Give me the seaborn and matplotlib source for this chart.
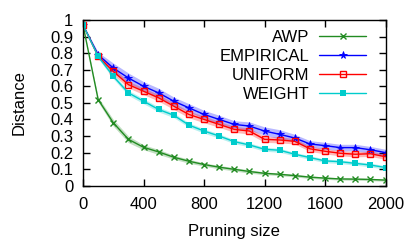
import matplotlib
matplotlib.use("Agg")
import matplotlib.pyplot as plt
import seaborn as sns
import numpy as np

sizes = list(range(0, 2001, 100))

awp = [0.97, 0.52, 0.38, 0.28, 0.232, 0.204, 0.172, 0.148, 0.128, 0.112, 0.099,
       0.086, 0.075, 0.069, 0.061, 0.052, 0.046, 0.041, 0.040, 0.038, 0.034]
empirical = [0.97, 0.79, 0.71, 0.65, 0.60, 0.56, 0.51, 0.47, 0.43, 0.40, 0.37,
             0.36, 0.33, 0.31, 0.288, 0.252, 0.242, 0.23, 0.23, 0.217, 0.20]
uniform = [0.97, 0.78, 0.69, 0.61, 0.57, 0.53, 0.48, 0.43, 0.40, 0.37, 0.34,
           0.33, 0.28, 0.276, 0.268, 0.223, 0.208, 0.196, 0.19, 0.193, 0.175]
weight = [0.97, 0.78, 0.66, 0.56, 0.51, 0.46, 0.425, 0.366, 0.33, 0.30, 0.266,
          0.246, 0.22, 0.214, 0.19, 0.17, 0.15, 0.145, 0.135, 0.125, 0.11]

# half-widths of the shaded bands
awp_err = [0.0, 0.015, 0.02, 0.02, 0.015, 0.015, 0.012, 0.012, 0.01, 0.01, 0.01,
           0.01, 0.008, 0.008, 0.008, 0.008, 0.007, 0.007, 0.007, 0.007, 0.007]
emp_err = [0.0, 0.015, 0.03, 0.03, 0.028, 0.028, 0.025, 0.025, 0.025, 0.025, 0.022,
           0.025, 0.025, 0.028, 0.022, 0.02, 0.02, 0.02, 0.02, 0.02, 0.02]
uni_err = [0.0, 0.012, 0.02, 0.02, 0.02, 0.02, 0.02, 0.02, 0.02, 0.018, 0.018,
           0.018, 0.018, 0.018, 0.016, 0.016, 0.016, 0.016, 0.016, 0.016, 0.016]
wgt_err = [0.0, 0.012, 0.015, 0.015, 0.015, 0.015, 0.014, 0.014, 0.013, 0.013, 0.012,
           0.012, 0.012, 0.012, 0.011, 0.011, 0.011, 0.011, 0.011, 0.011, 0.011]

sns.set_style("ticks")
plt.rcParams['font.family'] = ['Liberation Sans', 'DejaVu Sans']

fig = plt.figure(figsize=(4.15, 2.49), dpi=100)
ax = fig.add_axes([0.2, 0.254, 0.729, 0.666])

series = [
    ("AWP", awp, awp_err, "#228b22", dict(marker="x", markersize=4.5, markeredgewidth=1.0)),
    ("EMPIRICAL", empirical, emp_err, "#0000ff", dict(marker="*", markersize=5.5, markeredgewidth=0.6)),
    ("UNIFORM", uniform, uni_err, "#ff0000", dict(marker="s", markersize=5, markerfacecolor="none", markeredgewidth=1.0)),
    ("WEIGHT", weight, wgt_err, "#00cccc", dict(marker="s", markersize=5, markeredgewidth=0)),
]

for name, vals, err, col, mk in series:
    lo = np.array(vals) - np.array(err)
    hi = np.array(vals) + np.array(err)
    ax.fill_between(sizes, lo, hi, color=col, alpha=0.28, linewidth=0)
    sns.lineplot(x=sizes, y=vals, color=col, linewidth=1.0, label=name, ax=ax,
                 markeredgecolor=col, **mk)

ax.set_xlim(0, 2000)
ax.set_ylim(0, 1)
ax.set_xticks(range(0, 2001, 400))
ax.set_yticks(np.arange(0, 1.01, 0.1))
ax.set_yticklabels(["0", "0.1", "0.2", "0.3", "0.4", "0.5", "0.6", "0.7", "0.8", "0.9", "1"])
ax.tick_params(direction="in", length=5, width=1, labelsize=12, top=True, right=True,
               color="black", labelcolor="black")
ax.tick_params(axis="x", pad=8)
ax.tick_params(axis="y", pad=7)
for s in ax.spines.values():
    s.set_linewidth(1.0)
    s.set_color("black")
    s.set_visible(True)

ax.set_xlabel("Pruning size", fontsize=12, labelpad=9, color="black")
ax.set_ylabel("Distance", fontsize=12, labelpad=17, color="black")

ax.legend(loc="upper right", bbox_to_anchor=(0.935, 0.94), frameon=False,
          markerfirst=False, fontsize=12, handlelength=2.8, handletextpad=0.6,
          labelspacing=0.24, borderpad=0, borderaxespad=0, labelcolor="black")

fig.savefig("out.png", dpi=100)
